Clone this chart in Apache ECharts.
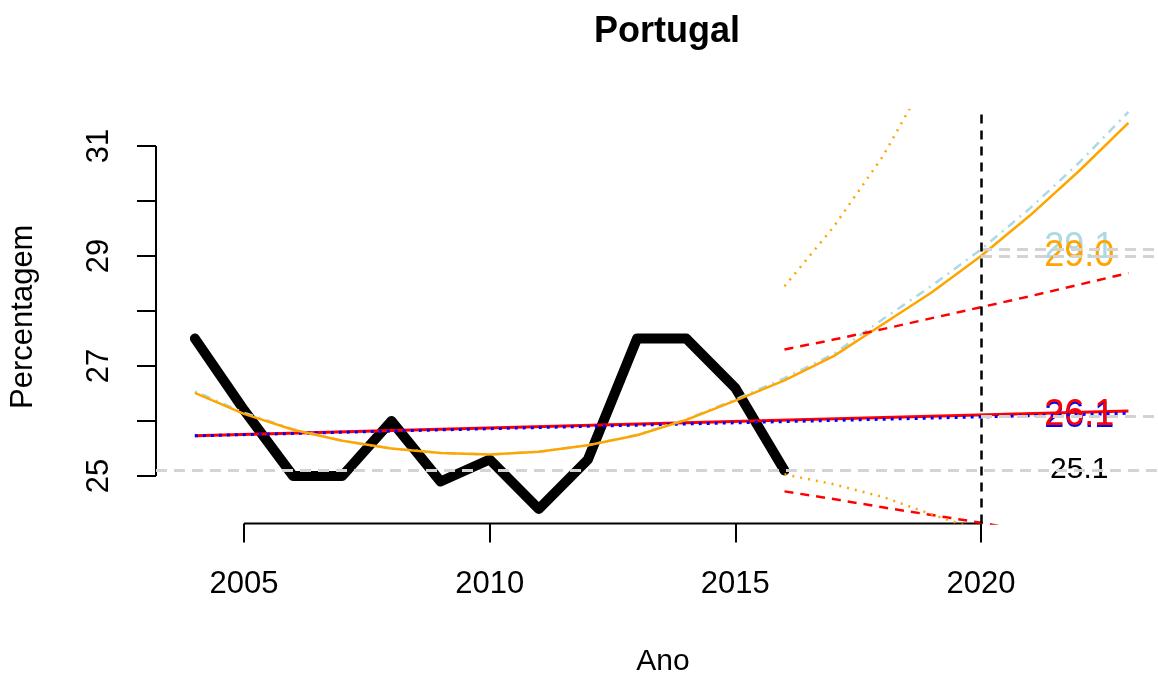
<!DOCTYPE html>
<html>
<head>
<meta charset="utf-8">
<script src="https://cdn.jsdelivr.net/npm/echarts@6/dist/echarts.min.js"></script>
<style>
  html, body { margin: 0; padding: 0; background: #fff; }
  #chart { width: 1158px; height: 673px; }
</style>
</head>
<body>
<div id="chart"></div>
<script>
// observed series
const years = [2004, 2005, 2006, 2007, 2008, 2009, 2010, 2011, 2012, 2013, 2014, 2015, 2016];
const observed = [27.5, 26.2, 25.0, 25.0, 26.0, 24.9, 25.3, 24.4, 25.3, 27.5, 27.5, 26.6, 25.1];

// fitted curves, extended to 2023
const fitYears = [2004, 2005, 2006, 2007, 2008, 2009, 2010, 2011, 2012, 2013, 2014, 2015, 2016,
                  2017, 2018, 2019, 2020, 2021, 2022, 2023];
const quadFit = [26.51, 26.13, 25.84, 25.64, 25.5, 25.42, 25.39, 25.44, 25.56, 25.74, 26.02, 26.37, 26.74,
                 27.18, 27.76, 28.34, 29.0, 29.74, 30.55, 31.42];
const quadFitAlt = [26.54, 26.15, 25.85, 25.64, 25.5, 25.42, 25.39, 25.44, 25.56, 25.75, 26.03, 26.39, 26.78,
                    27.22, 27.85, 28.46, 29.12, 29.87, 30.7, 31.62];
const linYears = [2004, 2023];
const linFit = [25.73, 26.18];
const linFitAlt = [25.73, 26.14];

// prediction bands
const bandYears = [2016, 2017, 2018, 2019, 2020, 2021, 2022, 2023];
const linUpper = [27.3, 27.48, 27.67, 27.87, 28.07, 28.27, 28.48, 28.69];
const linLower = [24.72, 24.58, 24.43, 24.29, 24.15, 23.99, 23.82, 23.65];
const quadBandYears = [2016, 2017, 2018, 2019, 2020];
const quadUpper = [28.45, 29.53, 30.81, 32.4, 34.1];
const quadLower = [25.03, 24.85, 24.62, 24.3, 24.0];

// reference levels and end labels
const forecastYear = 2020;
const lastLevel = 25.1;
const forecastLevels = [26.09, 29.0, 29.12];
const labelYear = 2022;
const labelValues = [29.15, 29.0, 26.07, 26.11, 25.12];

// axes
const xTicks = [2005, 2010, 2015, 2020];
const yTicks = [25, 26, 27, 28, 29, 30, 31];
const yLabels = [25, 27, 29, 31];

const FONT = '"Liberation Sans", Arial, Helvetica, sans-serif';
const xRange = [2003.209, 2023.602];
const yRange = [24.136, 31.655];
const labelColors = ['#ADD8E6', '#FFA500', '#0000FF', '#FF0000', '#000000'];
const labelSizes = [36, 36, 36, 36, 30];

const pairs = (xs, ys) => xs.map((x, i) => [x, ys[i]]);

function line(data, color, width, type, extra) {
  return Object.assign({
    type: 'line',
    data: data,
    symbol: 'none',
    silent: true,
    lineStyle: { color: color, width: width, type: type, cap: 'butt', join: 'round' }
  }, extra || {});
}

const chart = echarts.init(document.getElementById('chart'));

const option = {
  animation: false,
  backgroundColor: '#ffffff',
  textStyle: { fontFamily: FONT },
  graphic: [{
    type: 'text',
    x: 667,
    y: 32,
    style: {
      text: 'Portugal',
      font: 'bold 36px ' + FONT,
      fill: '#000',
      align: 'center',
      verticalAlign: 'middle',
      textAlign: 'center',
      textVerticalAlign: 'middle'
    }
  }],
  grid: { left: 156, right: 0, top: 110, bottom: 149.5, outerBoundsMode: 'none', containLabel: false },
  xAxis: {
    type: 'value',
    min: xRange[0],
    max: xRange[1],
    name: 'Ano',
    nameLocation: 'middle',
    nameGap: 123,
    nameTextStyle: { fontSize: 30, color: '#000', fontFamily: FONT, padding: [0, 0, 0, 12] },
    axisLine: { show: false },
    splitLine: { show: false },
    axisTick: { customValues: xTicks, length: 19, lineStyle: { color: '#000', width: 2 } },
    axisLabel: {
      customValues: xTicks, fontSize: 31, color: '#000', margin: 45, fontFamily: FONT,
      formatter: v => String(v)
    }
  },
  yAxis: {
    type: 'value',
    min: yRange[0],
    max: yRange[1],
    name: 'Percentagem',
    nameLocation: 'middle',
    nameGap: 117,
    nameTextStyle: { fontSize: 31, color: '#000', fontFamily: FONT },
    axisLine: { show: false },
    splitLine: { show: false },
    axisTick: { customValues: yTicks, length: 19, lineStyle: { color: '#000', width: 2 } },
    axisLabel: {
      customValues: yLabels, rotate: 90, fontSize: 31, color: '#000', margin: 41, fontFamily: FONT,
      formatter: v => String(v)
    }
  },
  series: [
    // observed data
    line(pairs(years, observed), '#000', 10, 'solid', {
      lineStyle: { color: '#000', width: 10, cap: 'round', join: 'round' }
    }),
    // axis lines spanning the tick range, as in base R
    line([[xRange[0], yTicks[0]], [xRange[0], yTicks[yTicks.length - 1]]], '#000', 2, 'solid', { clip: false }),
    line([[xTicks[0], yRange[0]], [xTicks[xTicks.length - 1], yRange[0]]], '#000', 2, 'solid', { clip: false }),
    // linear fits
    line(pairs(linYears, linFit), '#FF0000', 3, 'solid'),
    line(pairs(linYears, linFitAlt), '#0000FF', 3, [3, 5]),
    // quadratic fits
    line(pairs(fitYears, quadFitAlt), '#ADD8E6', 2.5, [2, 6, 9, 6]),
    line(pairs(fitYears, quadFit), '#FFA500', 2.5, 'solid'),
    // prediction bands
    line(pairs(bandYears, linUpper), '#FF0000', 2.5, [9, 7]),
    line(pairs(bandYears, linLower), '#FF0000', 2.5, [9, 7]),
    line(pairs(quadBandYears, quadUpper), '#FFA500', 2.5, [2, 6]),
    line(pairs(quadBandYears, quadLower), '#FFA500', 2.5, [2, 6]),
    // reference lines
    {
      type: 'line',
      data: [],
      silent: true,
      markLine: {
        silent: true,
        symbol: 'none',
        animation: false,
        label: { show: false },
        data: [
          { yAxis: lastLevel, lineStyle: { color: '#D3D3D3', width: 3, type: [11, 7] } }
        ].concat(forecastLevels.map(v => [
          { coord: [forecastYear, v], lineStyle: { color: '#D3D3D3', width: 3, type: [11, 7] } },
          { coord: [xRange[1], v] }
        ])).concat([
          { xAxis: forecastYear, lineStyle: { color: '#000', width: 2.5, type: [9, 7] } }
        ])
      }
    },
    // end labels
    {
      type: 'scatter',
      silent: true,
      symbolSize: 0,
      itemStyle: { color: '#ffffff', opacity: 1 },
      data: labelValues.map((v, i) => ({
        value: [labelYear, v],
        name: v.toFixed(1),
        label: { color: labelColors[i], fontSize: labelSizes[i] }
      })),
      label: {
        show: true, position: 'inside', formatter: '{b}', fontFamily: FONT,
        textBorderWidth: 0, opacity: 1
      },
      emphasis: { disabled: true }
    }
  ]
};

chart.setOption(option);
</script>
</body>
</html>
